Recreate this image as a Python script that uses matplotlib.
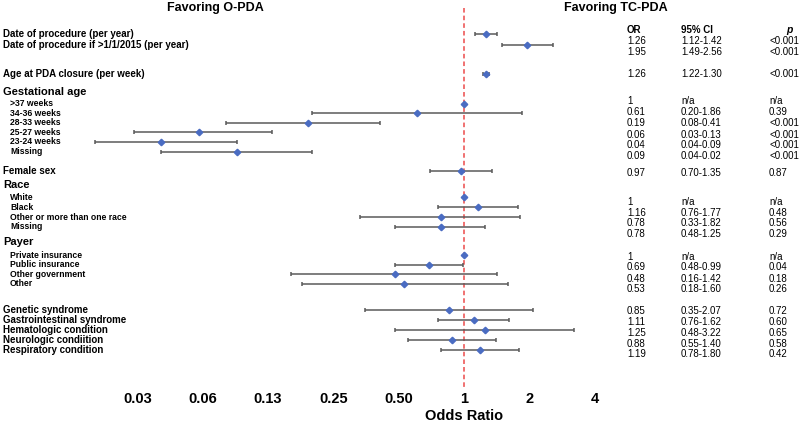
import numpy as np
import matplotlib
matplotlib.use("Agg")
import matplotlib.pyplot as plt
import matplotlib.transforms as mtransforms

# ---- data -------------------------------------------------------------
labels = [
    "Date of procedure (per year)",
    "Date of procedure if >1/1/2015 (per year)",
    "Age at PDA closure (per week)",
    "Gestational age",
    ">37 weeks", "34-36 weeks", "28-33 weeks", "25-27 weeks", "23-24 weeks", "Missing",
    "Female sex",
    "Race",
    "White", "Black", "Other or more than one race", "Missing",
    "Payer",
    "Private insurance", "Public insurance", "Other government", "Other",
    "Genetic syndrome", "Gastrointestinal syndrome", "Hematologic condition",
    "Neurologic condiition", "Respiratory condition",
]
# 'h' = group header, 's' = sub item, 'i' = top-level item
kinds = ["i", "i", "i", "h", "s", "s", "s", "s", "s", "s", "i", "h",
         "s", "s", "s", "s", "h", "s", "s", "s", "s", "i", "i", "i", "i", "i"]

odds = [1.26, 1.95, 1.26, None, 1, 0.61, 0.19, 0.06, 0.04, 0.09, 0.97, None,
        1, 1.16, 0.78, 0.78, None, 1, 0.69, 0.48, 0.53, 0.85, 1.11, 1.25, 0.88, 1.19]
ci_low = [1.12, 1.49, 1.22, None, None, 0.20, 0.08, 0.03, 0.02, 0.04, 0.70, None,
          None, 0.76, 0.33, 0.48, None, None, 0.48, 0.16, 0.18, 0.35, 0.76, 0.48, 0.55, 0.78]
ci_high = [1.42, 2.56, 1.30, None, None, 1.86, 0.41, 0.13, 0.09, 0.20, 1.35, None,
           None, 1.77, 1.82, 1.25, None, None, 0.99, 1.42, 1.60, 2.07, 1.62, 3.22, 1.40, 1.80]

or_text = ["1.26", "1.95", "1.26", "1", "0.61", "0.19", "0.06", "0.04", "0.09", "0.97",
           "1", "1.16", "0.78", "0.78", "1", "0.69", "0.48", "0.53",
           "0.85", "1.11", "1.25", "0.88", "1.19"]
ci_text = ["1.12-1.42", "1.49-2.56", "1.22-1.30", "n/a", "0.20-1.86", "0.08-0.41",
           "0.03-0.13", "0.04-0.09", "0.04-0.02", "0.70-1.35", "n/a", "0.76-1.77",
           "0.33-1.82", "0.48-1.25", "n/a", "0.48-0.99", "0.16-1.42", "0.18-1.60",
           "0.35-2.07", "0.76-1.62", "0.48-3.22", "0.55-1.40", "0.78-1.80"]
p_text = ["<0.001", "<0.001", "<0.001", "n/a", "0.39", "<0.001", "<0.001", "<0.001",
          "<0.001", "0.87", "n/a", "0.48", "0.56", "0.29", "n/a", "0.04", "0.18", "0.26",
          "0.72", "0.60", "0.65", "0.58", "0.42"]

tick_vals = [0.03125, 0.0625, 0.125, 0.25, 0.5, 1, 2, 4]
tick_labels = ["0.03", "0.06", "0.13", "0.25", "0.50", "1", "2", "4"]

# ---- layout (pixel rows, top = 0) -------------------------------------
row_y = [34, 45, 74, 92, 103.5, 113, 122.7, 132.2, 142, 152, 171, 185,
         197, 207, 217, 226.5, 242, 255, 264.5, 274.3, 284, 310, 320, 330, 340, 350]
table_y = [41, 52, 74, 101, 112, 123, 134.5, 145.5, 156, 173, 202, 213, 223.5, 234,
           257, 267.5, 278.5, 289, 311, 322, 333, 344, 354]

W, H = 800, 429
px_per_doubling = 65.3
x_one = 464
xlim = (2 ** (-x_one / px_per_doubling), 2 ** ((W - x_one) / px_per_doubling))

plt.rcParams["font.family"] = ["Liberation Sans", "DejaVu Sans"]
fig = plt.figure(figsize=(W / 100, H / 100), dpi=100)
ax = fig.add_axes([0, 0, 1, 1])
ax.set_xscale("log", base=2)
ax.set_xlim(*xlim)
ax.set_ylim(H, 0)
ax.axis("off")

# reference line
ax.plot([1, 1], [8, 387], color="#ec4a4a", lw=1.1, ls=(0, (3, 2)), zorder=1)

# estimates
for y, o, lo, hi in zip(row_y, odds, ci_low, ci_high):
    if o is None:
        continue
    if lo is not None:
        ax.errorbar(o, y, xerr=[[o - lo], [hi - o]], fmt="none", ecolor="#5a5a5a",
                    elinewidth=1.1, capsize=1.6, capthick=1.1, zorder=2)
    ax.plot(o, y, marker="D", ms=3.3, color="#4a6cc2", mec="#4a6cc2", zorder=3)

# row labels
lab_tr = mtransforms.blended_transform_factory(fig.transFigure, ax.transData)
for y, txt, k in zip(row_y, labels, kinds):
    if k == "h":
        ax.text(3 / W, y, txt, transform=lab_tr, fontsize=8, fontweight="bold",
                va="center", ha="left")
    elif k == "s":
        ax.text(10 / W, y, txt, transform=lab_tr, fontsize=6.2, fontweight="bold",
                va="center", ha="left")
    else:
        ax.text(3 / W, y, txt, transform=lab_tr, fontsize=7, fontweight="bold",
                va="center", ha="left")

# table
ax.text(627 / W, 30, "OR", transform=lab_tr, fontsize=7, fontweight="bold", va="center")
ax.text(681 / W, 30, "95% CI", transform=lab_tr, fontsize=7, fontweight="bold", va="center")
ax.text(786 / W, 30, "p", transform=lab_tr, fontsize=7.5, fontweight="bold",
        style="italic", va="center")
for y, a, b, c in zip(table_y, or_text, ci_text, p_text):
    ax.text(627 / W, y, a, transform=lab_tr, fontsize=7, va="center")
    ax.text(681 / W, y, b, transform=lab_tr, fontsize=7, va="center")
    ax.text(769 / W, y, c, transform=lab_tr, fontsize=7, va="center")

# headings
ax.text(215 / W, 8, "Favoring O-PDA", transform=lab_tr, fontsize=9, fontweight="bold",
        ha="center", va="center")
ax.text(616 / W, 8, "Favoring TC-PDA", transform=lab_tr, fontsize=9, fontweight="bold",
        ha="center", va="center")

# x-axis tick labels and title
for v, t in zip(tick_vals, tick_labels):
    ax.text(v, 399, t, fontsize=10.5, fontweight="bold", ha="center", va="center")
ax.text(1, 416, "Odds Ratio", fontsize=10.5, fontweight="bold", ha="center", va="center")

fig.savefig("out.png", dpi=100)
